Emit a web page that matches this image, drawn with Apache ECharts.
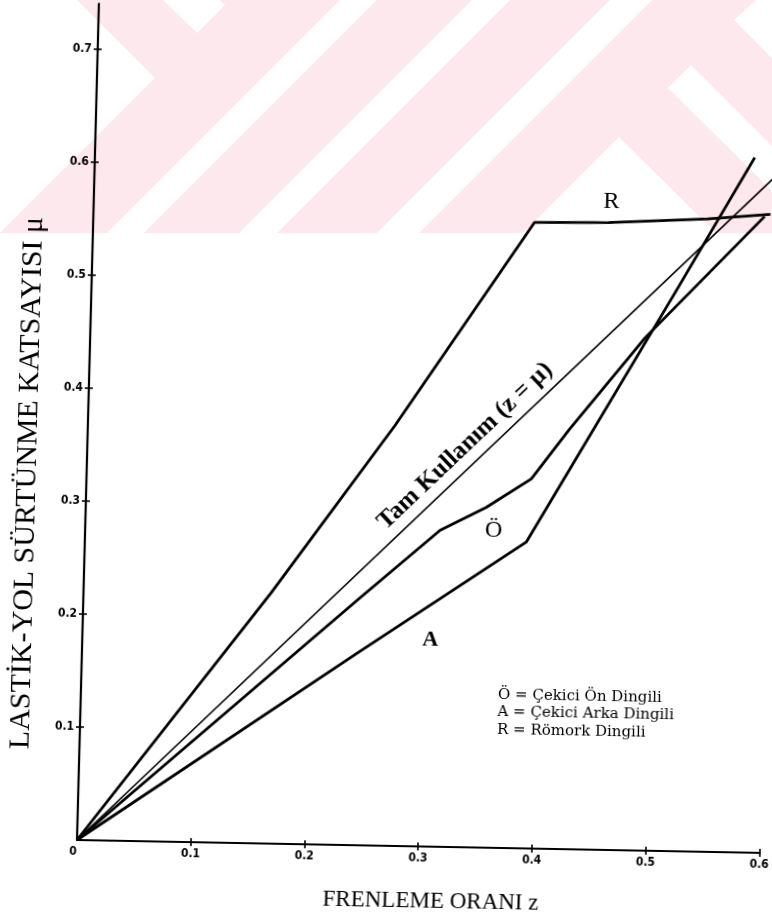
<!DOCTYPE html>
<html><head><meta charset="utf-8">
<script src="https://cdn.jsdelivr.net/npm/echarts@6/dist/echarts.min.js"></script>
<style>
html,body{margin:0;padding:0;background:#fff;overflow:hidden;width:772px;height:916px;}
#wm,#chart{position:absolute;left:0;top:0;width:772px;height:916px;}
#chart{transform-origin:77px 840px;transform:matrix(0.99982,0.01885,-0.02618,0.99966,0,0);}
</style></head><body>
<div id="wm"></div><div id="chart"></div>
<script>
// ---- data ----
const xTickValues = [0.1, 0.2, 0.3, 0.4, 0.5, 0.6];
const xLabelValues = [0, 0.1, 0.2, 0.3, 0.4, 0.5, 0.6];
const yTickValues = [0.1, 0.2, 0.3, 0.4, 0.5, 0.6, 0.7];
const tamKullanim = [[0, 0], [0.6, 0.6]];
const onDingili = [[0, 0], [0.241, 0.217], [0.312, 0.28], [0.352, 0.301], [0.391, 0.327], [0.423, 0.371], [0.488, 0.454], [0.59, 0.563]];
const arkaDingili = [[0, 0], [0.242, 0.17], [0.388, 0.271], [0.513, 0.494], [0.58, 0.615]];
const romorkDingili = [[0, 0], [0.165, 0.222], [0.27, 0.372], [0.388, 0.554], [0.453, 0.555], [0.54, 0.56], [0.595, 0.565]];
const curveNames = ['R', 'Ö', 'A'];
const tamLabel = 'Tam Kullanım (z = μ)';
const legendLines = ['Ö = Çekici Ön Dingili', 'A = Çekici Arka Dingili', 'R = Römork Dingili'];
const xTitle = 'FRENLEME ORANI z';
const yTitle = 'LASTİK-YOL SÜRTÜNME KATSAYISI μ';

// ---- watermark layer ----
const PINK = '#fde8ed';
const wm = echarts.init(document.getElementById('wm'), null, {width: 772, height: 916});
const whitePolys = [
  [[0,0],[77,0],[155,78],[0,233]],
  [[163,0],[220,0],[225,5],[197,33]],
  [[340,0],[377,0],[144,233],[107,233]],
  [[472,0],[510,0],[277,233],[239,233]],
  [[610,0],[652,0],[419,233],[377,233]],
  [[523,233],[619,137],[716,233]],
  [[691,65],[772,146],[772,191],[668,88]],
  [[734,20],[756,0],[772,0],[772,58]]
];
wm.setOption({
  animation: false,
  graphic: [{type: 'rect', shape: {x: 0, y: 0, width: 772, height: 233}, style: {fill: PINK}}]
    .concat(whitePolys.map(p => ({type: 'polygon', shape: {points: p}, style: {fill: '#fff'}})))
});

// ---- chart ----
const BLACK = '#000';
const tickFont = {fontFamily: '"DejaVu Sans Condensed","Liberation Sans Narrow","DejaVu Sans",sans-serif', fontWeight: 'bold', fontSize: 12, color: BLACK};
const SERIF = '"Liberation Serif","Times New Roman",serif';
const fmt = v => (v === 0 ? '0' : v.toFixed(1));
function lineSeries(name, data, width) {
  return {name, type: 'line', data, symbol: 'none', showSymbol: false, lineStyle: {color: BLACK, width}, z: 5};
}
const chart = echarts.init(document.getElementById('chart'), null, {width: 772, height: 916});
chart.setOption({
  animation: false,
  backgroundColor: 'transparent',
  grid: {left: 77, right: 7, top: 3.6, bottom: 76, containLabel: false},
  xAxis: [
    {type: 'value', min: 0, max: 0.6, interval: 0.1,
     axisLine: {lineStyle: {color: BLACK, width: 2.2}},
     axisTick: {length: 4, customValues: xTickValues, lineStyle: {color: BLACK, width: 1.6}},
     axisLabel: Object.assign({customValues: xLabelValues, formatter: fmt, margin: 6, alignMinLabel: 'right'}, tickFont),
     splitLine: {show: false}},
    {type: 'value', min: 0, max: 0.6, interval: 0.1, position: 'bottom',
     axisLine: {show: false},
     axisTick: {inside: true, length: 4, customValues: xTickValues, lineStyle: {color: BLACK, width: 1.6}},
     axisLabel: {show: false}, splitLine: {show: false}}
  ],
  yAxis: [
    {type: 'value', min: 0, max: 0.74, interval: 0.1,
     axisLine: {lineStyle: {color: BLACK, width: 2.2}},
     axisTick: {length: 4, customValues: yTickValues, lineStyle: {color: BLACK, width: 1.6}},
     axisLabel: Object.assign({customValues: yTickValues, formatter: fmt, margin: 6}, tickFont),
     splitLine: {show: false}},
    {type: 'value', min: 0, max: 0.74, interval: 0.1, position: 'left',
     axisLine: {show: false},
     axisTick: {inside: true, length: 4, customValues: yTickValues, lineStyle: {color: BLACK, width: 1.6}},
     axisLabel: {show: false}, splitLine: {show: false}}
  ],
  series: [
    lineSeries('Tam Kullanım', tamKullanim, 1.6),
    lineSeries('Ö', onDingili, 2.8),
    lineSeries('A', arkaDingili, 2.8),
    lineSeries('R', romorkDingili, 2.8)
  ]
});

const px = p => chart.convertToPixel({seriesIndex: 0}, p);
const o = px([0, 0]), e = px([0.6, 0.6]);
const ang = Math.atan2(o[1] - e[1], e[0] - o[0]);
const rPos = px([0.455, 0.574]), oPos = px([0.359, 0.281]), aPos = px([0.306, 0.183]);
const tPos = px([0.332, 0.355]);
function txt(t, pos, font, extra) {
  return Object.assign({type: 'text', x: pos[0], y: pos[1], z: 10,
    style: {text: t, font: font, fill: BLACK, textAlign: 'center', textVerticalAlign: 'middle'}}, extra || {});
}
const gfx = [
  txt(curveNames[0], rPos, '24px ' + SERIF),
  txt(curveNames[1], oPos, '24px ' + SERIF),
  txt(curveNames[2], aPos, 'bold 22px ' + SERIF),
  txt(tamLabel, tPos, 'bold 25px ' + SERIF, {rotation: ang}),
  txt(xTitle, [432, 895], '23px ' + SERIF),
  txt(yTitle, [18, 484], '30px ' + SERIF, {rotation: Math.PI / 2})
];
legendLines.forEach((l, i) => {
  gfx.push({type: 'text', x: 494, y: 687 + i * 17.5, z: 10,
    style: {text: l, font: '15px "DejaVu Serif",serif', fill: BLACK, textAlign: 'left', textVerticalAlign: 'middle'}});
});
chart.setOption({graphic: gfx});
</script>
</body></html>
